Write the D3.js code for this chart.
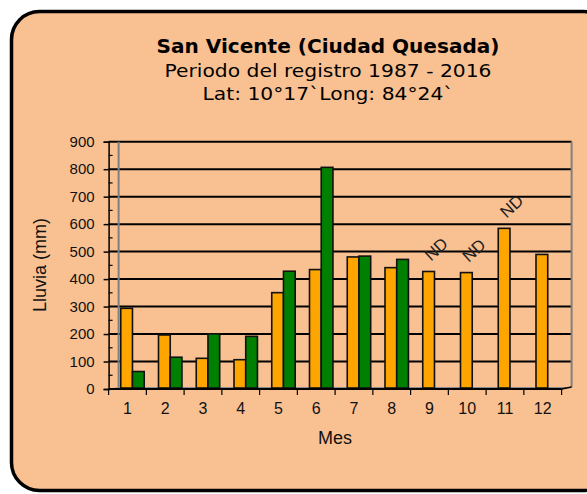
<!DOCTYPE html>
<html>
<head>
<meta charset="utf-8">
<script src="https://cdn.jsdelivr.net/npm/d3@7"></script>
<style>
  html, body { margin: 0; padding: 0; background: #fff; }
  svg { display: block; }
</style>
</head>
<body>
<svg id="chart" width="587" height="494"></svg>
<script>
// Monthly rainfall, San Vicente (Ciudad Quesada)
const months = ["1","2","3","4","5","6","7","8","9","10","11","12"];
const serieA = [290, 193, 108, 103, 347, 431, 477, 438, 424, 420, 581, 486];
const serieB = [60, 112, 197, 188, 425, 803, 480, 468, 0, 0, 0, null];
const ndMonths = ["9", "10", "11"];
const yTicks = [0, 100, 200, 300, 400, 500, 600, 700, 800, 900];

const titleLines = [
  "San Vicente (Ciudad Quesada)",
  "Periodo del registro 1987 - 2016",
  "Lat: 10°17`Long: 84°24`"
];

const svg = d3.select("#chart");
const font = "'DejaVu Sans', Verdana, sans-serif";
const axisFont = "'Liberation Sans', Arial, sans-serif";

// Panel background
svg.append("rect")
  .attr("x", 11.5).attr("y", 11.5)
  .attr("width", 600).attr("height", 479)
  .attr("rx", 28).attr("ry", 28)
  .attr("fill", "#F9C192")
  .attr("stroke", "#000").attr("stroke-width", 3.5);

// Titles
const titleY = [53, 77, 99.5];
const titleSize = [20, 18, 18];
const titleWidth = [343, 327, 251];
const titleWeight = ["bold", "normal", "normal"];
titleLines.forEach((t, i) => {
  svg.append("text")
    .attr("x", 328).attr("y", titleY[i])
    .attr("text-anchor", "middle")
    .attr("font-family", font)
    .attr("font-size", titleSize[i])
    .attr("font-weight", titleWeight[i])
    .attr("textLength", titleWidth[i])
    .attr("lengthAdjust", "spacingAndGlyphs")
    .attr("fill", "#000")
    .text(t);
});

// Scales
const x0 = 108.6, x1 = 561.6;
const depthX = 10, depthY = -2;
const x = d3.scaleBand().domain(months).range([x0, x1]).padding(0);
const y = d3.scaleLinear().domain([0, 900]).range([389, 141.7]);
const pair = d3.scaleBand().domain(["a", "b"]).range([0, x.bandwidth()]).paddingOuter(0.61).paddingInner(0);

const wallLeft = x0 + depthX, wallRight = x1 + depthX;
const g = svg.append("g");

// Floor
g.append("path")
  .attr("d", `M${x0},${y(0)} L${x1},${y(0)} L${wallRight},${y(0) + depthY} L${wallLeft},${y(0) + depthY} Z`)
  .attr("fill", "#8a8a8a").attr("stroke", "none");

// Gridlines
g.selectAll("line.grid").data(yTicks.filter(d => d > 0)).enter().append("line")
  .attr("class", "grid")
  .attr("x1", x0).attr("x2", wallRight)
  .attr("y1", d => y(d)).attr("y2", d => y(d))
  .attr("stroke", "#000").attr("stroke-width", 2);

// Left and right wall edges
g.append("line")
  .attr("x1", wallLeft).attr("x2", wallLeft)
  .attr("y1", y(900)).attr("y2", y(0) + depthY)
  .attr("stroke", "#7f7f7f").attr("stroke-width", 2);
g.append("line")
  .attr("x1", wallRight).attr("x2", wallRight)
  .attr("y1", y(900)).attr("y2", y(0) + depthY)
  .attr("stroke", "#7f7f7f").attr("stroke-width", 2);

// Bars
const shiftX = depthX / 2, shiftY = depthY / 2;
const barsA = months.map((m, i) => ({ m, v: serieA[i] }));
const barsB = months.map((m, i) => ({ m, v: serieB[i] })).filter(d => d.v !== null);

g.selectAll("rect.a").data(barsA).enter().append("rect")
  .attr("x", d => x(d.m) + pair("a") + shiftX)
  .attr("y", d => y(d.v) + shiftY)
  .attr("width", pair.bandwidth())
  .attr("height", d => y(0) - y(d.v))
  .attr("fill", "#FFA500")
  .attr("stroke", "#111").attr("stroke-width", 1.6);

g.selectAll("rect.b").data(barsB).enter().append("rect")
  .attr("x", d => x(d.m) + pair("b") + shiftX)
  .attr("y", d => y(d.v) + shiftY)
  .attr("width", pair.bandwidth())
  .attr("height", d => Math.max(0, y(0) - y(d.v)))
  .attr("fill", "#008000")
  .attr("stroke", "#111").attr("stroke-width", 1.6);

// Front floor edge
g.append("line")
  .attr("x1", x0).attr("x2", x1)
  .attr("y1", y(0)).attr("y2", y(0))
  .attr("stroke", "#000").attr("stroke-width", 2);
g.append("line")
  .attr("x1", x1).attr("x2", wallRight)
  .attr("y1", y(0)).attr("y2", y(0) + depthY)
  .attr("stroke", "#000").attr("stroke-width", 1.5);

// Y axis
const yAxis = d3.axisLeft(y).tickValues(yTicks).tickSize(5).tickPadding(9);
const ya = svg.append("g").attr("transform", `translate(${x0},0)`).call(yAxis);
ya.select(".domain").attr("stroke", "#000").attr("stroke-width", 1.5);
ya.selectAll(".tick line").attr("stroke", "#000").attr("stroke-width", 1.5);
ya.selectAll(".tick text")
  .attr("font-family", axisFont).attr("font-size", 15).attr("fill", "#111");
// minor ticks on the inside of the axis
svg.append("g").selectAll("line").data(d3.range(50, 900, 100)).enter().append("line")
  .attr("x1", x0).attr("x2", x0 + 4)
  .attr("y1", d => y(d)).attr("y2", d => y(d))
  .attr("stroke", "#000").attr("stroke-width", 1.2);

// X axis
const xAxis = d3.axisBottom(x).tickSize(0).tickPadding(14);
const xa = svg.append("g").attr("transform", `translate(0,${y(0)})`).call(xAxis);
xa.select(".domain").remove();
xa.selectAll(".tick text")
  .attr("font-family", axisFont).attr("font-size", 16).attr("fill", "#111");
svg.append("g").selectAll("line").data(months.concat(["end"])).enter().append("line")
  .attr("x1", d => d === "end" ? x1 : x(d)).attr("x2", d => d === "end" ? x1 : x(d))
  .attr("y1", y(0)).attr("y2", y(0) + 6)
  .attr("stroke", "#000").attr("stroke-width", 1.2);

// ND markers for months without data
svg.append("g").selectAll("text").data(ndMonths).enter().append("text")
  .attr("transform", d => {
    const i = months.indexOf(d);
    const cx = x(d) + pair("b") + shiftX + pair.bandwidth() / 2 - 4;
    const cy = y(serieA[i]) - 23;
    return `translate(${cx},${cy}) rotate(-42)`;
  })
  .attr("text-anchor", "middle")
  .attr("dominant-baseline", "central")
  .attr("font-family", axisFont).attr("font-size", 17)
  .attr("fill", "#222")
  .text("ND");

// Axis titles
svg.append("text")
  .attr("transform", `translate(40,265) rotate(-90)`)
  .attr("text-anchor", "middle").attr("dominant-baseline", "central")
  .attr("font-family", axisFont).attr("font-size", 18).attr("fill", "#111")
  .text("Lluvia (mm)");
svg.append("text")
  .attr("x", 335).attr("y", 444)
  .attr("text-anchor", "middle")
  .attr("font-family", axisFont).attr("font-size", 18).attr("fill", "#111")
  .text("Mes");
</script>
</body>
</html>
